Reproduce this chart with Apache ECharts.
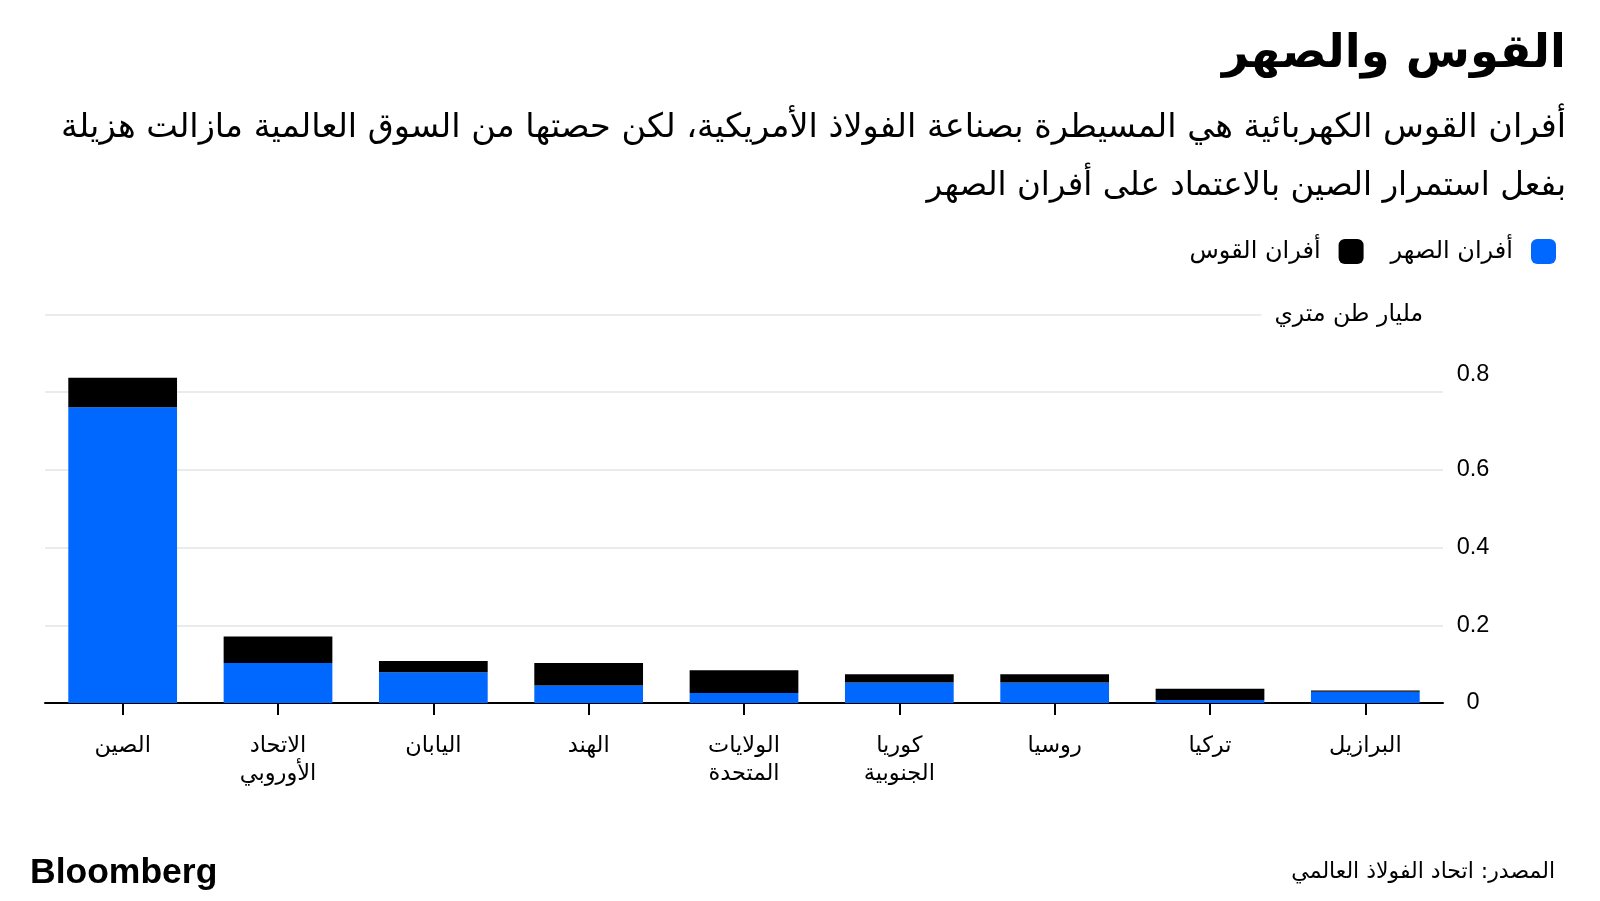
<!DOCTYPE html>
<html>
<head>
<meta charset="utf-8">
<script src="https://cdn.jsdelivr.net/npm/echarts@6/dist/echarts.min.js"></script>
<style>
html,body{margin:0;padding:0;background:#fff;}
#c{width:1600px;height:901px;}
</style>
</head>
<body>
<div id="c"></div>
<script>
const categories = ['الصين', 'الاتحاد\nالأوروبي', 'اليابان', 'الهند', 'الولايات\nالمتحدة', 'كوريا\nالجنوبية', 'روسيا', 'تركيا', 'البرازيل'];
const blastFurnace = [0.761, 0.103, 0.079, 0.045, 0.026, 0.053, 0.053, 0.008, 0.029];
const arcFurnace = [0.076, 0.068, 0.029, 0.058, 0.058, 0.021, 0.021, 0.029, 0.003];
const yTicks = [0, 0.2, 0.4, 0.6, 0.8, 1.0];
const seriesNames = ['أفران الصهر', 'أفران القوس'];

const titleText = 'القوس والصهر';
const subLine1 = 'أفران القوس الكهربائية هي المسيطرة بصناعة الفولاذ الأمريكية، لكن حصتها من السوق العالمية مازالت هزيلة';
const subLine2 = 'بفعل استمرار الصين بالاعتماد على أفران الصهر';
const unitText = 'مليار طن متري';
const sourceText = 'المصدر: اتحاد الفولاذ العالمي';

const arFont = '"DejaVu Sans", "Noto Sans", sans-serif';
const numFont = '"Liberation Sans", Arial, sans-serif';

const chart = echarts.init(document.getElementById('c'));
chart.setOption({
  backgroundColor: '#fff',
  animation: false,
  legend: {
    data: [seriesNames[1], seriesNames[0]],
    right: 44,
    top: 239,
    padding: 0,
    align: 'right',
    itemWidth: 25,
    itemHeight: 25,
    itemGap: 27,
    icon: 'roundRect',
    textStyle: {fontFamily: arFont, fontSize: 24, color: '#000', padding: [0, 13, 0, 0]}
  },
  grid: {left: 45, right: 157, top: 314.5, bottom: 198},
  xAxis: {
    type: 'category',
    data: categories,
    axisLine: {lineStyle: {color: '#000', width: 2}},
    axisTick: {show: true, alignWithLabel: true, length: 12, lineStyle: {color: '#000', width: 2}},
    axisLabel: {fontFamily: arFont, fontSize: 22.5, color: '#000', margin: 29, lineHeight: 28, interval: 0}
  },
  yAxis: {
    type: 'value',
    position: 'right',
    min: 0,
    max: 1.0,
    interval: 0.2,
    name: unitText,
    nameLocation: 'end',
    nameGap: 0,
    nameTextStyle: {
      fontFamily: arFont, fontSize: 23.5, color: '#000',
      align: 'right', verticalAlign: 'middle',
      backgroundColor: '#fff', padding: [2, 20, 15, 13]
    },
    axisLine: {show: false},
    axisTick: {show: false},
    splitLine: {lineStyle: {color: '#ebebeb', width: 2}},
    axisLabel: {
      fontFamily: numFont, fontSize: 23.5, color: '#000', align: 'center', margin: 30,
      formatter: function (v) {
        if (Math.abs(v - 1.0) < 1e-9) return '';
        if (Math.abs(v - 0.8) < 1e-9) return '{top|0.8}';
        return v === 0 ? '0' : String(+v.toFixed(1));
      },
      rich: {top: {fontFamily: numFont, fontSize: 23.5, color: '#000', padding: [0, 0, 36, 0]}}
    }
  },
  series: [
    {
      name: seriesNames[0], type: 'bar', stack: 'total', data: blastFurnace,
      barCategoryGap: '30%', itemStyle: {color: '#0068ff'}
    },
    {
      name: seriesNames[1], type: 'bar', stack: 'total', data: arcFurnace,
      barCategoryGap: '30%', itemStyle: {color: '#000'}
    }
  ],
  graphic: [
    {type: 'text', right: 34, top: 31, style: {text: titleText, font: 'bold 46.5px ' + arFont, fill: '#000', textAlign: 'right'}},
    {type: 'text', right: 34, top: 111, style: {text: subLine1, font: '33.5px ' + arFont, fill: '#000', textAlign: 'right'}},
    {type: 'text', right: 34, top: 170, style: {text: subLine2, font: '32.5px ' + arFont, fill: '#000', textAlign: 'right'}},
    {type: 'text', left: 30, top: 855, style: {text: 'Bloomberg', font: 'bold 35.5px ' + numFont, fill: '#000'}},
    {type: 'text', right: 45, top: 861, style: {text: sourceText, font: '22px ' + arFont, fill: '#000', textAlign: 'right'}}
  ]
});
</script>
</body>
</html>
